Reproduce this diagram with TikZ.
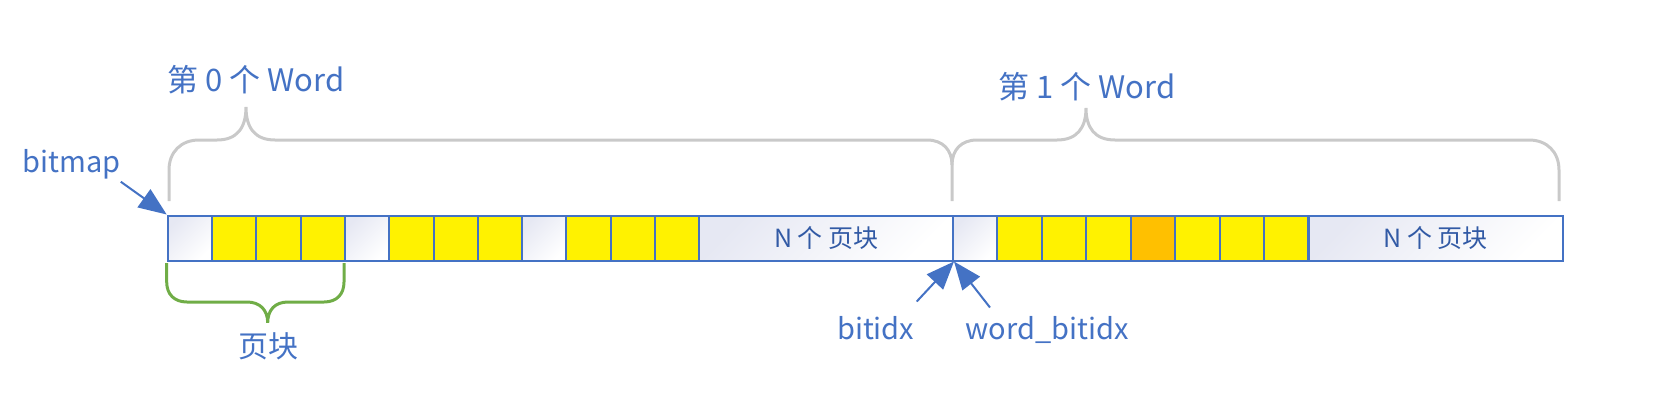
\documentclass[tikz,border=0pt]{standalone}
\usepackage{fontspec}
\newfontfamily\cjk{Noto Sans CJK SC}
\usetikzlibrary{arrows.meta}
\definecolor{cellblue}{HTML}{4472C4}
\definecolor{labelblue}{HTML}{4472C4}
\definecolor{nblue}{RGB}{50,90,165}
\definecolor{cellshade}{HTML}{E6E8F3}
\definecolor{bracegray}{HTML}{C9C9C9}
\definecolor{pagegreen}{HTML}{70AD47}
\definecolor{usedorange}{HTML}{FFC000}
\tikzset{
  cell/.style={draw=cellblue, line width=1pt, rectangle, inner sep=0pt, anchor=north west,
    minimum width=22.15pt, minimum height=22.5pt},
  cellw/.style={top color=cellshade, bottom color=white, shading angle=45},
  celly/.style={fill=yellow},
  cello/.style={fill=usedorange},
  nblock/.style={cell, cellw, minimum width=#1, text=nblue,
    font=\cjk\fontsize{12.5}{14}\selectfont},
  lbl/.style={inner sep=0pt, text=labelblue, font=\cjk\fontsize{14.5}{18}\selectfont},
  wordlbl/.style={lbl, font=\cjk\fontsize{15.5}{18}\selectfont},
  ptr/.style={draw=labelblue, line width=1pt, -{Triangle[length=14pt,width=11pt]}},
  wordbrace/.style={draw=bracegray, line width=1.5pt},
  pagebrace/.style={draw=pagegreen, line width=1.5pt}
}
\begin{document}
\begin{tikzpicture}[x=0.5pt,y=-0.5pt]
  \useasboundingbox (0,0) rectangle (1660,418);
  % word 0
  \foreach \c [count=\i from 0] in {w,y,y,y,w,y,y,y,w,y,y,y}
    \node[cell, cell\c] (w0c\i) at (166.7+\i*44.3,214.5) {};
  \node[nblock=126.85pt] (w0n) at (698.3,214.5) {N 个 页块};
  % word 1
  \foreach \c [count=\i from 0] in {w,y,y,y,o,y,y,y}
    \node[cell, cell\c] (w1c\i) at (952+\i*44.45,214.5) {};
  \node[nblock=127pt] (w1n) at (1307.6,214.5) {N 个 页块};

  % braces over the words
  \draw[wordbrace] (169,201) -- (169,170) .. controls (169,152) and (181,140) .. (199,140)
    -- (217,140) .. controls (237,140) and (246,128) .. (246,107)
    .. controls (246,128) and (255,140) .. (275,140) -- (927,140)
    .. controls (943,140) and (952,150) .. (952,165) -- (952,201);
  \draw[wordbrace] (952,165) .. controls (952,150) and (961,140) .. (977,140)
    -- (1057,140) .. controls (1077,140) and (1086,128) .. (1086,108)
    .. controls (1086,128) and (1095,140) .. (1115,140) -- (1529,140)
    .. controls (1547,140) and (1559,152) .. (1559,170) -- (1559,201);
  \node[wordlbl, anchor=base west] (word0) at (167,91) {第 0 个 Word};
  \node[wordlbl, anchor=base west] (word1) at (998,98.3) {第 1 个 Word};

  % brace under one page block
  \draw[pagebrace] (166.7,263) -- (166.7,282) .. controls (166.7,294) and (174,302) .. (187,302)
    -- (247,302) .. controls (260,302) and (267.7,310) .. (267.7,322.7)
    .. controls (267.7,310) and (275,302) .. (288,302) -- (324,302)
    .. controls (337,302) and (344,294) .. (344,282) -- (344,263);
  \node[lbl, font=\cjk\fontsize{15}{18}\selectfont, anchor=base] (page) at (268,357) {页块};

  % pointers
  \node[lbl, anchor=base west] (bitmap) at (22,172.7) {bitmap};
  \node[lbl, anchor=base west] (bitidx) at (836.7,339) {bitidx};
  \node[lbl, anchor=base west] (wordidx) at (965,339) {word\_bitidx};
  \draw[ptr] ([xshift=0pt,yshift=-1pt]bitmap.south east) -- (w0c0.north west);
  \draw[ptr] ([xshift=1pt,yshift=7pt]bitidx.north east) -- (w0n.south east);
  \draw[ptr] ([xshift=12.5pt,yshift=4pt]wordidx.north west) -- ([xshift=1pt]w1c0.south west);
\end{tikzpicture}
\end{document}
